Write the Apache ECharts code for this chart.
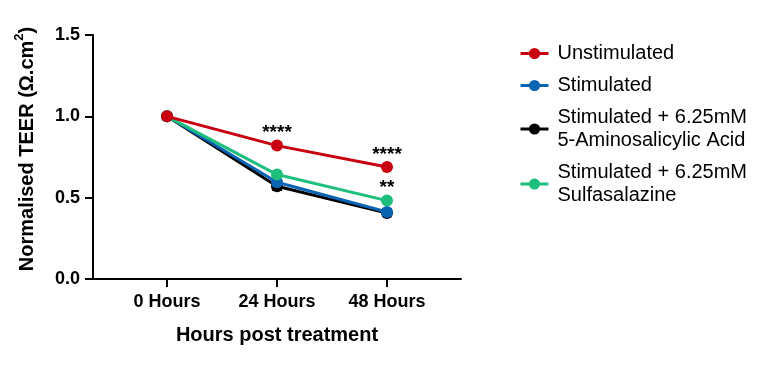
<!DOCTYPE html>
<html>
<head>
<meta charset="utf-8">
<script src="https://cdn.jsdelivr.net/npm/echarts@6/dist/echarts.min.js"></script>
<style>
html,body{margin:0;padding:0;background:#fff;}
#chart{width:768px;height:365px;}
</style>
</head>
<body>
<div id="chart"></div>
<script>
var categories = ['0 Hours', '24 Hours', '48 Hours'];
var seriesNames = ['Unstimulated', 'Stimulated', 'Stimulated + 6.25mM\n5-Aminosalicylic Acid', 'Stimulated + 6.25mM\nSulfasalazine'];
var unstimulated = [1.0, 0.82, 0.688];
var stimulated = [1.0, 0.595, 0.412];
var asa = [1.0, 0.57, 0.405];
var sulfasalazine = [1.0, 0.642, 0.482];
var asaErr = [0, 0.022, 0.015];
var stimulatedErr = [0, 0.012, 0.018];
var unstimSig = ['', '****', '****'];
var sulfaSig = ['', '', '**'];
var yTicks = [0, 0.5, 1.0, 1.5];

var colors = ['#C8000F', '#0A64B4', '#000000', '#1EBE7C'];
var FONT = 'Liberation Sans, Arial, Helvetica, sans-serif';

function pts(vals, sig) {
  return vals.map(function (v, i) {
    var d = { value: [i, v] };
    if (sig && sig[i]) {
      d.label = { show: true, formatter: sig[i], position: 'top', distance: -3,
        fontSize: 19, fontWeight: 'bold', fontFamily: FONT, color: '#000' };
    }
    return d;
  });
}
function errData(vals, errs) {
  var out = [];
  vals.forEach(function (v, i) { if (errs[i] > 0) out.push([i, v - errs[i], v + errs[i]]); });
  return out;
}
function errSeries(vals, errs, color, z) {
  return {
    type: 'custom', z: z, silent: true,
    data: errData(vals, errs),
    renderItem: function (params, api) {
      var x = api.value(0);
      var lo = api.coord([x, api.value(1)]);
      var hi = api.coord([x, api.value(2)]);
      var w = 5;
      return {
        type: 'group',
        children: [
          { type: 'line', shape: { x1: lo[0], y1: lo[1], x2: hi[0], y2: hi[1] }, style: { stroke: color, lineWidth: 2 } },
          { type: 'line', shape: { x1: lo[0] - w, y1: lo[1], x2: lo[0] + w, y2: lo[1] }, style: { stroke: color, lineWidth: 2 } },
          { type: 'line', shape: { x1: hi[0] - w, y1: hi[1], x2: hi[0] + w, y2: hi[1] }, style: { stroke: color, lineWidth: 2 } }
        ]
      };
    }
  };
}
function lineSeries(name, vals, color, z, sig) {
  return {
    name: name, type: 'line', z: z,
    data: pts(vals, sig),
    symbol: 'circle', symbolSize: 12,
    lineStyle: { width: 3, color: color },
    itemStyle: { color: color },
    emphasis: { disabled: true },
    animation: false
  };
}

var chart = echarts.init(document.getElementById('chart'), null, { renderer: 'canvas' });
chart.setOption({
  animation: false,
  backgroundColor: '#fff',
  textStyle: { fontFamily: FONT },
  grid: { left: 93, right: 307, top: 35, bottom: 86, containLabel: false },
  legend: {
    orient: 'vertical', left: 514, top: 37,
    itemWidth: 28, itemHeight: 14, itemGap: 9,
    data: seriesNames,
    lineStyle: { width: 3 },
    textStyle: { fontSize: 20, lineHeight: 23, fontFamily: FONT, color: '#000', padding: [0, 0, 0, 4] }
  },
  xAxis: {
    type: 'value', min: -0.673, max: 2.673,
    splitLine: { show: false },
    axisLine: { show: true, onZero: false, lineStyle: { color: '#000', width: 2 } },
    axisTick: { show: true, customValues: [0, 1, 2], length: 8, lineStyle: { color: '#000', width: 2 } },
    axisLabel: { customValues: [0, 1, 2], margin: 14, fontSize: 18, fontWeight: 'bold', color: '#000', fontFamily: FONT,
      formatter: function (v) { return categories[Math.round(v)]; } },
    name: 'Hours post treatment', nameLocation: 'middle', nameGap: 46,
    nameTextStyle: { fontSize: 20, fontWeight: 'bold', color: '#000', fontFamily: FONT }
  },
  yAxis: {
    type: 'value', min: 0, max: 1.5, interval: 0.5,
    splitLine: { show: false },
    axisLine: { show: true, onZero: false, lineStyle: { color: '#000', width: 2 } },
    axisTick: { show: true, length: 8, lineStyle: { color: '#000', width: 2 } },
    axisLabel: { margin: 13, fontSize: 18, fontWeight: 'bold', color: '#000', fontFamily: FONT,
      formatter: function (v) { return v.toFixed(1); } },
    name: '{t|Normalised TEER (Ω.cm}{s|2}{t|)}', nameLocation: 'middle', nameGap: 56, nameRotate: 90,
    nameTextStyle: { fontFamily: FONT, color: '#000', padding: [0, 0, 0, 16],
      rich: {
        t: { fontSize: 20, fontWeight: 'bold', fontFamily: FONT, color: '#000', verticalAlign: 'bottom', lineHeight: 24 },
        s: { fontSize: 13, fontWeight: 'bold', fontFamily: FONT, color: '#000', verticalAlign: 'top', lineHeight: 24 }
      } }
  },
  series: [
    lineSeries(seriesNames[0], unstimulated, colors[0], 6, unstimSig),
    lineSeries(seriesNames[1], stimulated, colors[1], 4, null),
    lineSeries(seriesNames[2], asa, colors[2], 2, null),
    lineSeries(seriesNames[3], sulfasalazine, colors[3], 5, sulfaSig),
    errSeries(asa, asaErr, colors[2], 1),
    errSeries(stimulated, stimulatedErr, colors[1], 3)
  ]
});
</script>
</body>
</html>
